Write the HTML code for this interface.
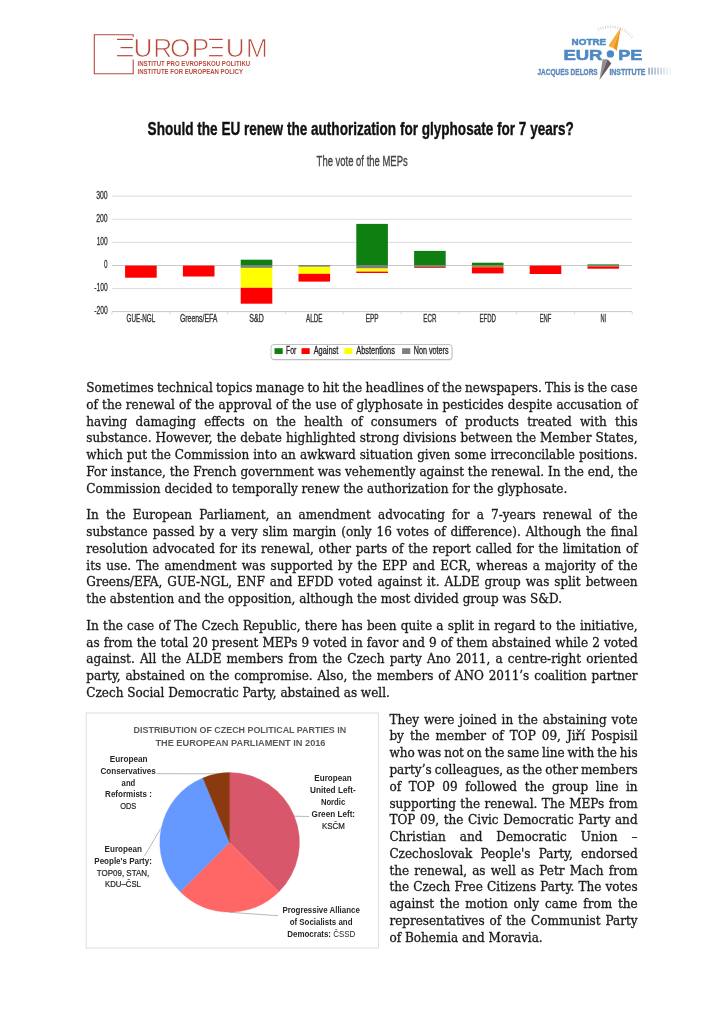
<!DOCTYPE html>
<html lang="en"><head><meta charset="utf-8"><title>Should the EU renew the authorization for glyphosate for 7 years?</title>
<style>
html,body{margin:0;padding:0;background:#fff}
body{width:724px;height:1024px;position:relative;overflow:hidden;font-family:"DejaVu Serif Condensed","DejaVu Serif","Liberation Serif",serif;font-stretch:condensed}
.ln{position:absolute;font-family:"DejaVu Serif Condensed","DejaVu Serif","Liberation Serif",serif;font-stretch:condensed;font-size:13.38px;line-height:16.8px;height:16.8px;white-space:nowrap;color:#1a1a1a;-webkit-text-stroke:0.3px #1a1a1a;overflow:visible}
svg{position:absolute;left:0;top:0}
svg text{font-family:"Liberation Sans",sans-serif}
</style></head><body>
<svg width="724" height="1024" viewBox="0 0 724 1024">
<path d="M133.2,37.0 V34.8 H94.3 V73.8 H133.2 V59.5" fill="none" stroke="#b84a3c" stroke-width="1.1"/>
<rect x="117.0" y="38.8" width="15.8" height="1.2" fill="#b84a3c"/>
<rect x="120.6" y="47.0" width="12.2" height="1.2" fill="#b84a3c"/>
<rect x="117.0" y="55.1" width="15.8" height="1.2" fill="#b84a3c"/>
<rect x="209.1" y="38.8" width="13.6" height="1.2" fill="#b84a3c"/>
<rect x="212.0" y="47.0" width="10.7" height="1.2" fill="#b84a3c"/>
<rect x="209.1" y="55.1" width="13.6" height="1.2" fill="#b84a3c"/>
<text x="133.48 153.35 169.97 191.65" y="56.6" font-size="26.2" fill="#b84a3c" stroke="#fff" stroke-width="0.7" paint-order="fill stroke" style="paint-order:fill stroke">UROP</text>
<text x="225.78 246.05" y="56.6" font-size="26.2" fill="#b84a3c" stroke="#fff" stroke-width="0.7" paint-order="fill stroke" style="paint-order:fill stroke">UM</text>
<text x="137.5" y="65.6" font-size="7.5" font-weight="bold" fill="#b84a3c" textLength="112.7" lengthAdjust="spacingAndGlyphs">INSTITUT PRO EVROPSKOU POLITIKU</text>
<text x="137.5" y="74.2" font-size="7.5" font-weight="bold" fill="#b84a3c" textLength="105.5" lengthAdjust="spacingAndGlyphs">INSTITUTE FOR EUROPEAN POLICY</text>
<text x="571.6" y="44.7" font-size="9.4" font-weight="bold" fill="#4f89c4" stroke="#4f89c4" stroke-width="0.5" textLength="34.6" lengthAdjust="spacingAndGlyphs">NOTRE</text>
<text x="563.4" y="59.6" font-size="15.4" font-weight="bold" fill="#4f89c4" stroke="#4f89c4" stroke-width="0.6" textLength="39.1" lengthAdjust="spacingAndGlyphs">EUR</text>
<text x="618.3" y="59.6" font-size="15.4" font-weight="bold" fill="#4f89c4" stroke="#4f89c4" stroke-width="0.6" textLength="24.1" lengthAdjust="spacingAndGlyphs">PE</text>
<text x="537.4" y="74.5" font-size="9.9" font-weight="bold" fill="#5b88b9" stroke="#5b88b9" stroke-width="0.35" textLength="60.3" lengthAdjust="spacingAndGlyphs">JACQUES DELORS</text>
<text x="609.4" y="74.5" font-size="9.9" font-weight="bold" fill="#5b88b9" stroke="#5b88b9" stroke-width="0.35" textLength="36.0" lengthAdjust="spacingAndGlyphs">INSTITUTE</text>
<rect x="648.3" y="67.6" width="1.5" height="7" fill="#6f8db0" opacity="0.80"/>
<rect x="651.3" y="67.6" width="1.5" height="7" fill="#6f8db0" opacity="0.70"/>
<rect x="654.3" y="67.6" width="1.5" height="7" fill="#6f8db0" opacity="0.60"/>
<rect x="657.3" y="67.6" width="1.5" height="7" fill="#6f8db0" opacity="0.50"/>
<rect x="660.3" y="67.6" width="1.5" height="7" fill="#6f8db0" opacity="0.40"/>
<rect x="663.3" y="67.6" width="1.5" height="7" fill="#6f8db0" opacity="0.30"/>
<rect x="666.3" y="67.6" width="1.5" height="7" fill="#6f8db0" opacity="0.20"/>
<rect x="669.3" y="67.6" width="1.5" height="7" fill="#6f8db0" opacity="0.10"/>
<path d="M599.1,30.7 L597.9,28.2" stroke="#ccd4de" stroke-width="0.9"/>
<path d="M601.2,29.8 L600.2,27.2" stroke="#ccd4de" stroke-width="0.9"/>
<path d="M603.5,29.1 L602.7,26.4" stroke="#ccd4de" stroke-width="0.9"/>
<path d="M605.7,28.5 L605.2,25.8" stroke="#ccd4de" stroke-width="0.9"/>
<path d="M608.1,28.2 L607.8,25.4" stroke="#ccd4de" stroke-width="0.9"/>
<path d="M610.4,28.1 L610.4,25.3" stroke="#ccd4de" stroke-width="0.9"/>
<path d="M612.7,28.2 L613.0,25.4" stroke="#ccd4de" stroke-width="0.9"/>
<path d="M615.1,28.5 L615.6,25.8" stroke="#ccd4de" stroke-width="0.9"/>
<path d="M617.3,29.1 L618.1,26.4" stroke="#ccd4de" stroke-width="0.9"/>
<path d="M619.6,29.8 L620.6,27.2" stroke="#ccd4de" stroke-width="0.9"/>
<path d="M621.7,30.7 L622.9,28.2" stroke="#ccd4de" stroke-width="0.9"/>
<path d="M623.8,31.8 L625.2,29.4" stroke="#ccd4de" stroke-width="0.9"/>
<path d="M625.7,33.1 L627.4,30.9" stroke="#ccd4de" stroke-width="0.9"/>
<path d="M627.5,34.6 L629.4,32.5" stroke="#ccd4de" stroke-width="0.9"/>
<path d="M629.2,36.2 L631.2,34.3" stroke="#ccd4de" stroke-width="0.9"/>
<path d="M630.7,38.0 L632.9,36.3" stroke="#ccd4de" stroke-width="0.9"/>
<path d="M620.9,27.2 L608.6,45.6 L612.6,49.4 Z" fill="#f6ad35"/>
<path d="M620.9,27.2 L612.6,49.4 L616.9,50.6 Z" fill="#eb951f"/>
<path d="M599.5,79.9 L602.6,59.4 L607.6,59.0 Z" fill="#8f8e99"/>
<path d="M599.5,79.9 L607.6,59.0 L611.3,63.4 Z" fill="#6b5a5b"/>
<circle cx="610.4" cy="53.9" r="6.6" fill="#fff"/>
<circle cx="610.4" cy="53.9" r="3.7" fill="#4f89c4"/>
<text x="147.6" y="134.6" font-size="18.8" font-weight="bold" fill="#111" text-anchor="start" textLength="426.3" lengthAdjust="spacingAndGlyphs" stroke="#111" stroke-width="0.4">Should the EU renew the authorization for glyphosate for 7 years?</text>
<text x="316.6" y="166.2" font-size="14.9" font-weight="normal" fill="#444" text-anchor="start" textLength="91.1" lengthAdjust="spacingAndGlyphs" stroke="#444" stroke-width="0.35">The vote of the MEPs</text>
<rect x="112.0" y="195.70" width="520.2" height="1" fill="#dcdcdc"/>
<text x="96.2" y="198.5" font-size="10.8" font-weight="normal" fill="#333" text-anchor="start" textLength="11.5" lengthAdjust="spacingAndGlyphs" stroke="#333" stroke-width="0.3">300</text>
<rect x="112.0" y="218.80" width="520.2" height="1" fill="#dcdcdc"/>
<text x="96.2" y="221.6" font-size="10.8" font-weight="normal" fill="#333" text-anchor="start" textLength="11.5" lengthAdjust="spacingAndGlyphs" stroke="#333" stroke-width="0.3">200</text>
<rect x="112.0" y="241.90" width="520.2" height="1" fill="#dcdcdc"/>
<text x="96.7" y="244.7" font-size="10.8" font-weight="normal" fill="#333" text-anchor="start" textLength="11.0" lengthAdjust="spacingAndGlyphs" stroke="#333" stroke-width="0.3">100</text>
<rect x="112.0" y="265.00" width="520.2" height="1" fill="#c8c8c8"/>
<text x="104.1" y="267.8" font-size="10.8" font-weight="normal" fill="#333" text-anchor="start" textLength="3.6" lengthAdjust="spacingAndGlyphs" stroke="#333" stroke-width="0.3">0</text>
<rect x="112.0" y="288.10" width="520.2" height="1" fill="#dcdcdc"/>
<text x="94.2" y="290.9" font-size="10.8" font-weight="normal" fill="#333" text-anchor="start" textLength="13.5" lengthAdjust="spacingAndGlyphs" stroke="#333" stroke-width="0.3">-100</text>
<rect x="112.0" y="311.10" width="520.2" height="1" fill="#c8c8c8"/>
<text x="94.2" y="313.9" font-size="10.8" font-weight="normal" fill="#333" text-anchor="start" textLength="13.5" lengthAdjust="spacingAndGlyphs" stroke="#333" stroke-width="0.3">-200</text>
<rect x="111.50" y="312" width="1" height="2.5" fill="#dedede"/>
<rect x="169.30" y="312" width="1" height="2.5" fill="#dedede"/>
<rect x="227.10" y="312" width="1" height="2.5" fill="#dedede"/>
<rect x="284.90" y="312" width="1" height="2.5" fill="#dedede"/>
<rect x="342.70" y="312" width="1" height="2.5" fill="#dedede"/>
<rect x="400.50" y="312" width="1" height="2.5" fill="#dedede"/>
<rect x="458.30" y="312" width="1" height="2.5" fill="#dedede"/>
<rect x="516.10" y="312" width="1" height="2.5" fill="#dedede"/>
<rect x="573.90" y="312" width="1" height="2.5" fill="#dedede"/>
<rect x="631.70" y="312" width="1" height="2.5" fill="#dedede"/>
<rect x="125.10" y="265.60" width="31.6" height="12.10" fill="#fe0000"/>
<text x="126.55" y="321.5" font-size="10.8" font-weight="normal" fill="#333" text-anchor="start" textLength="28.7" lengthAdjust="spacingAndGlyphs" stroke="#333" stroke-width="0.35">GUE-NGL</text>
<rect x="182.90" y="265.60" width="31.6" height="10.90" fill="#fe0000"/>
<text x="179.95" y="321.5" font-size="10.8" font-weight="normal" fill="#333" text-anchor="start" textLength="37.5" lengthAdjust="spacingAndGlyphs" stroke="#333" stroke-width="0.35">Greens/EFA</text>
<rect x="240.70" y="259.70" width="31.6" height="5.90" fill="#0f7f12"/>
<rect x="240.70" y="265.60" width="31.6" height="2.30" fill="#7f7f7f"/>
<rect x="240.70" y="267.90" width="31.6" height="19.90" fill="#ffff00"/>
<rect x="240.70" y="287.80" width="31.6" height="15.90" fill="#fe0000"/>
<text x="249.30" y="321.5" font-size="10.8" font-weight="normal" fill="#333" text-anchor="start" textLength="14.4" lengthAdjust="spacingAndGlyphs" stroke="#333" stroke-width="0.35">S&amp;D</text>
<rect x="298.50" y="265.00" width="31.6" height="1.80" fill="#7f7f7f"/>
<rect x="298.50" y="266.80" width="31.6" height="7.00" fill="#ffff00"/>
<rect x="298.50" y="273.80" width="31.6" height="7.80" fill="#fe0000"/>
<text x="306.00" y="321.5" font-size="10.8" font-weight="normal" fill="#333" text-anchor="start" textLength="16.6" lengthAdjust="spacingAndGlyphs" stroke="#333" stroke-width="0.35">ALDE</text>
<rect x="356.30" y="223.90" width="31.6" height="41.70" fill="#0f7f12"/>
<rect x="356.30" y="265.60" width="31.6" height="2.90" fill="#7f7f7f"/>
<rect x="356.30" y="268.50" width="31.6" height="3.10" fill="#ffff00"/>
<rect x="356.30" y="271.60" width="31.6" height="1.40" fill="#fe0000"/>
<text x="365.70" y="321.5" font-size="10.8" font-weight="normal" fill="#333" text-anchor="start" textLength="12.8" lengthAdjust="spacingAndGlyphs" stroke="#333" stroke-width="0.35">EPP</text>
<rect x="414.10" y="250.90" width="31.6" height="14.70" fill="#0f7f12"/>
<rect x="414.10" y="265.60" width="31.6" height="1.60" fill="#7f7f7f"/>
<rect x="414.10" y="267.20" width="31.6" height="0.80" fill="#fe0000"/>
<text x="423.35" y="321.5" font-size="10.8" font-weight="normal" fill="#333" text-anchor="start" textLength="13.1" lengthAdjust="spacingAndGlyphs" stroke="#333" stroke-width="0.35">ECR</text>
<rect x="471.90" y="262.70" width="31.6" height="2.90" fill="#0f7f12"/>
<rect x="471.90" y="265.60" width="31.6" height="1.70" fill="#a08a3c"/>
<rect x="471.90" y="267.30" width="31.6" height="6.10" fill="#fe0000"/>
<text x="479.40" y="321.5" font-size="10.8" font-weight="normal" fill="#333" text-anchor="start" textLength="16.6" lengthAdjust="spacingAndGlyphs" stroke="#333" stroke-width="0.35">EFDD</text>
<rect x="529.70" y="265.60" width="31.6" height="8.40" fill="#fe0000"/>
<text x="539.70" y="321.5" font-size="10.8" font-weight="normal" fill="#333" text-anchor="start" textLength="11.6" lengthAdjust="spacingAndGlyphs" stroke="#333" stroke-width="0.35">ENF</text>
<rect x="587.50" y="264.40" width="31.6" height="1.20" fill="#0f7f12"/>
<rect x="587.50" y="265.60" width="31.6" height="0.80" fill="#7f7f7f"/>
<rect x="587.50" y="266.40" width="31.6" height="2.30" fill="#fe0000"/>
<text x="600.50" y="321.5" font-size="10.8" font-weight="normal" fill="#333" text-anchor="start" textLength="5.6" lengthAdjust="spacingAndGlyphs" stroke="#333" stroke-width="0.35">NI</text>
<rect x="271.5" y="345.5" width="181" height="15" rx="3" ry="3" fill="#bbb" opacity="0.5"/>
<rect x="271" y="344.5" width="181" height="15" rx="3" ry="3" fill="#fff" stroke="#b0b0b0" stroke-width="0.8"/>
<rect x="274.5" y="348.2" width="8.2" height="5.8" fill="#0f7f12"/>
<text x="286" y="354.3" font-size="10.8" font-weight="normal" fill="#222" text-anchor="start" textLength="10.3" lengthAdjust="spacingAndGlyphs" stroke="#222" stroke-width="0.3">For</text>
<rect x="301.5" y="348.2" width="8.2" height="5.8" fill="#fe0000"/>
<text x="313.7" y="354.3" font-size="10.8" font-weight="normal" fill="#222" text-anchor="start" textLength="24.6" lengthAdjust="spacingAndGlyphs" stroke="#222" stroke-width="0.3">Against</text>
<rect x="344.3" y="348.2" width="8.2" height="5.8" fill="#ffff00"/>
<text x="356.3" y="354.3" font-size="10.8" font-weight="normal" fill="#222" text-anchor="start" textLength="38.6" lengthAdjust="spacingAndGlyphs" stroke="#222" stroke-width="0.3">Abstentions</text>
<rect x="402.1" y="348.2" width="8.2" height="5.8" fill="#7f7f7f"/>
<text x="413.7" y="354.3" font-size="10.8" font-weight="normal" fill="#222" text-anchor="start" textLength="34.8" lengthAdjust="spacingAndGlyphs" stroke="#222" stroke-width="0.3">Non voters</text>
<rect x="86.2" y="713" width="292.3" height="235" fill="#fff" stroke="#dedede" stroke-width="1"/>
<path d="M229.6,842.4 L229.60,772.60 A69.8,69.8 0 0 1 278.96,891.76 Z" fill="#d9576b" stroke="#d9576b" stroke-width="0.4" stroke-linejoin="round"/>
<path d="M229.6,842.4 L278.96,891.76 A69.8,69.8 0 0 1 180.24,891.76 Z" fill="#ff6666" stroke="#ff6666" stroke-width="0.4" stroke-linejoin="round"/>
<path d="M229.6,842.4 L180.24,891.76 A69.8,69.8 0 0 1 202.89,777.91 Z" fill="#6699ff" stroke="#6699ff" stroke-width="0.4" stroke-linejoin="round"/>
<path d="M229.6,842.4 L202.89,777.91 A69.8,69.8 0 0 1 229.60,772.60 Z" fill="#8b3a0f" stroke="#8b3a0f" stroke-width="0.4" stroke-linejoin="round"/>
<path d="M156.4,773.7 L215.6,773.8" fill="none" stroke="#a6a6a6" stroke-width="0.8"/>
<path d="M160.7,828.5 L144.5,856.0" fill="none" stroke="#a6a6a6" stroke-width="0.8"/>
<path d="M294.2,816.2 L309.0,816.5" fill="none" stroke="#a6a6a6" stroke-width="0.8"/>
<path d="M229.6,912.3 L278.0,915.7" fill="none" stroke="#a6a6a6" stroke-width="0.8"/>
<text x="133.6" y="733.1" font-size="9.1" font-weight="bold" fill="#595959" text-anchor="start" textLength="212.6" lengthAdjust="spacingAndGlyphs">DISTRIBUTION OF CZECH POLITICAL PARTIES IN</text>
<text x="155.4" y="746.2" font-size="9.1" font-weight="bold" fill="#595959" text-anchor="start" textLength="170.1" lengthAdjust="spacingAndGlyphs">THE EUROPEAN PARLIAMENT IN 2016</text>
<text x="109.8" y="761.7" font-size="8.2" font-weight="bold" fill="#262626" text-anchor="start" textLength="37.7" lengthAdjust="spacingAndGlyphs">European</text>
<text x="100.5" y="773.5" font-size="8.2" font-weight="bold" fill="#262626" text-anchor="start" textLength="55.3" lengthAdjust="spacingAndGlyphs">Conservatives</text>
<text x="121.6" y="785.6" font-size="8.2" font-weight="bold" fill="#262626" text-anchor="start" textLength="13.7" lengthAdjust="spacingAndGlyphs">and</text>
<text x="105.1" y="797.4" font-size="8.2" font-weight="bold" fill="#262626" text-anchor="start" textLength="46.8" lengthAdjust="spacingAndGlyphs">Reformists :</text>
<text x="120.2" y="809.0" font-size="8.2" font-weight="normal" fill="#262626" text-anchor="start" textLength="16.1" lengthAdjust="spacingAndGlyphs" stroke="#262626" stroke-width="0.2">ODS</text>
<text x="104.6" y="852.2" font-size="8.2" font-weight="bold" fill="#262626" text-anchor="start" textLength="37.3" lengthAdjust="spacingAndGlyphs">European</text>
<text x="94.3" y="863.8" font-size="8.2" font-weight="bold" fill="#262626" text-anchor="start" textLength="57.6" lengthAdjust="spacingAndGlyphs">People's Party:</text>
<text x="96.8" y="875.6" font-size="8.2" font-weight="normal" fill="#262626" text-anchor="start" textLength="52.4" lengthAdjust="spacingAndGlyphs" stroke="#262626" stroke-width="0.2">TOP09, STAN,</text>
<text x="105.1" y="887.0" font-size="8.2" font-weight="normal" fill="#262626" text-anchor="start" textLength="35.8" lengthAdjust="spacingAndGlyphs" stroke="#262626" stroke-width="0.2">KDU–ČSL</text>
<text x="314.3" y="780.6" font-size="8.2" font-weight="bold" fill="#262626" text-anchor="start" textLength="37.3" lengthAdjust="spacingAndGlyphs">European</text>
<text x="310.0" y="792.6" font-size="8.2" font-weight="bold" fill="#262626" text-anchor="start" textLength="45.7" lengthAdjust="spacingAndGlyphs">United Left-</text>
<text x="320.9" y="804.5" font-size="8.2" font-weight="bold" fill="#262626" text-anchor="start" textLength="24.3" lengthAdjust="spacingAndGlyphs">Nordic</text>
<text x="311.6" y="816.5" font-size="8.2" font-weight="bold" fill="#262626" text-anchor="start" textLength="43.5" lengthAdjust="spacingAndGlyphs">Green Left:</text>
<text x="322.0" y="829.0" font-size="8.2" font-weight="normal" fill="#262626" text-anchor="start" textLength="22.8" lengthAdjust="spacingAndGlyphs" stroke="#262626" stroke-width="0.2">KSČM</text>
<text x="282.4" y="913.0" font-size="8.2" font-weight="bold" fill="#262626" text-anchor="start" textLength="77.4" lengthAdjust="spacingAndGlyphs">Progressive Alliance</text>
<text x="289.7" y="924.5" font-size="8.2" font-weight="bold" fill="#262626" text-anchor="start" textLength="62.8" lengthAdjust="spacingAndGlyphs">of Socialists and</text>
<text x="287.3" y="936.7" font-size="8.2" fill="#262626" textLength="68" lengthAdjust="spacingAndGlyphs"><tspan font-weight="bold">Democrats: </tspan><tspan>ČSSD</tspan></text>
</svg>
<div class="ln" style="left:86.3px;top:380px;width:551.3px;word-spacing:-0.559px">Sometimes technical topics manage to hit the headlines of the newspapers. This is the case</div>
<div class="ln" style="left:86.3px;top:397px;width:551.3px;word-spacing:0.255px">of the renewal of the approval of the use of glyphosate in pesticides despite accusation of</div>
<div class="ln" style="left:86.3px;top:414px;width:551.3px;word-spacing:4.418px">having damaging effects on the health of consumers of products treated with this</div>
<div class="ln" style="left:86.3px;top:430px;width:551.3px;word-spacing:0.141px">substance. However, the debate highlighted strong divisions between the Member States,</div>
<div class="ln" style="left:86.3px;top:447px;width:551.3px;word-spacing:0.236px">which put the Commission into an awkward situation given some irreconcilable positions.</div>
<div class="ln" style="left:86.3px;top:464px;width:551.3px;word-spacing:-0.042px">For instance, the French government was vehemently against the renewal. In the end, the</div>
<div class="ln" style="left:86.3px;top:481px;width:481.0px;word-spacing:0.000px">Commission decided to temporally renew the authorization for the glyphosate.</div>
<div class="ln" style="left:86.3px;top:507px;width:551.3px;word-spacing:3.317px">In the European Parliament, an amendment advocating for a 7-years renewal of the</div>
<div class="ln" style="left:86.3px;top:524px;width:551.3px;word-spacing:1.110px">substance passed by a very slim margin (only 16 votes of difference). Although the final</div>
<div class="ln" style="left:86.3px;top:541px;width:551.3px;word-spacing:0.755px">resolution advocated for its renewal, other parts of the report called for the limitation of</div>
<div class="ln" style="left:86.3px;top:558px;width:551.3px;word-spacing:1.339px">its use. The amendment was supported by the EPP and ECR, whereas a majority of the</div>
<div class="ln" style="left:86.3px;top:574px;width:551.3px;word-spacing:1.150px">Greens/EFA, GUE-NGL, ENF and EFDD voted against it. ALDE group was split between</div>
<div class="ln" style="left:86.3px;top:591px;width:475.7px;word-spacing:0.000px">the abstention and the opposition, although the most divided group was S&amp;D.</div>
<div class="ln" style="left:86.3px;top:618px;width:551.3px;word-spacing:0.420px">In the case of The Czech Republic, there has been quite a split in regard to the initiative,</div>
<div class="ln" style="left:86.3px;top:635px;width:551.3px;word-spacing:0.267px">as from the total 20 present MEPs 9 voted in favor and 9 of them abstained while 2 voted</div>
<div class="ln" style="left:86.3px;top:651px;width:551.3px;word-spacing:1.337px">against. All the ALDE members from the Czech party Ano 2011, a centre-right oriented</div>
<div class="ln" style="left:86.3px;top:668px;width:551.3px;word-spacing:1.032px">party, abstained on the compromise. Also, the members of ANO 2011’s coalition partner</div>
<div class="ln" style="left:86.3px;top:685px;width:303.5px;word-spacing:0.000px">Czech Social Democratic Party, abstained as well.</div>
<div class="ln" style="left:389.4px;top:712px;width:248.2px;word-spacing:1.109px">They were joined in the abstaining vote</div>
<div class="ln" style="left:389.4px;top:728px;width:248.2px;word-spacing:2.183px">by the member of TOP 09, Jiří Pospisil</div>
<div class="ln" style="left:389.4px;top:745px;width:248.2px;word-spacing:-0.920px">who was not on the same line with the his</div>
<div class="ln" style="left:389.4px;top:762px;width:248.2px;word-spacing:-0.823px">party’s colleagues, as the other members</div>
<div class="ln" style="left:389.4px;top:779px;width:248.2px;word-spacing:3.812px">of TOP 09 followed the group line in</div>
<div class="ln" style="left:389.4px;top:796px;width:248.2px;word-spacing:0.656px">supporting the renewal. The MEPs from</div>
<div class="ln" style="left:389.4px;top:812px;width:248.2px;word-spacing:0.804px">TOP 09, the Civic Democratic Party and</div>
<div class="ln" style="left:389.4px;top:829px;width:248.2px;word-spacing:10.175px">Christian and Democratic Union –</div>
<div class="ln" style="left:389.4px;top:846px;width:248.2px;word-spacing:4.384px">Czechoslovak People's Party, endorsed</div>
<div class="ln" style="left:389.4px;top:863px;width:248.2px;word-spacing:1.290px">the renewal, as well as Petr Mach from</div>
<div class="ln" style="left:389.4px;top:879px;width:248.2px;word-spacing:0.299px">the Czech Free Citizens Party. The votes</div>
<div class="ln" style="left:389.4px;top:896px;width:248.2px;word-spacing:1.992px">against the motion only came from the</div>
<div class="ln" style="left:389.4px;top:913px;width:248.2px;word-spacing:1.144px">representatives of the Communist Party</div>
<div class="ln" style="left:389.4px;top:930px;width:153.3px;word-spacing:0.000px">of Bohemia and Moravia.</div>
<script>
(function(){try{var L=document.querySelectorAll('.ln');for(var i=0;i<L.length;i++){var e=L[i],r=document.createRange();r.selectNodeContents(e);var w=r.getBoundingClientRect().width,t=parseFloat(e.style.width);if(t&&Math.abs(w-t)>1.5){e.style.wordSpacing='0px';w=r.getBoundingClientRect().width;e.style.transformOrigin='0 0';e.style.transform='scaleX('+(t/w)+')';}}}catch(x){}})();
</script>
</body></html>
